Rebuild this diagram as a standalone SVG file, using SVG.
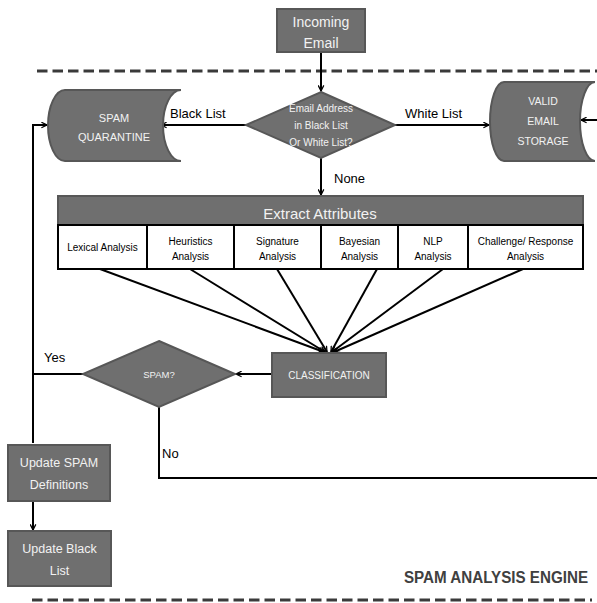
<svg xmlns="http://www.w3.org/2000/svg" width="597" height="603" viewBox="0 0 597 603">
<defs>
<marker id="ah" viewBox="0 0 10 10" refX="9" refY="5" markerWidth="7" markerHeight="7" markerUnits="userSpaceOnUse" orient="auto">
<path d="M1,1 L9,5 L1,9" fill="none" stroke="#000" stroke-width="1.8"/>
</marker>
<style>
.box{fill:#6f6f6f;stroke:#575757;stroke-width:2}
.t{font-family:"Liberation Sans",Arial,sans-serif;fill:#f2f2f2;text-anchor:middle}
.lbl{font-family:"Liberation Sans",Arial,sans-serif;fill:#000;font-size:13px}
.cell{fill:#fff;stroke:#000;stroke-width:2}
.ct{font-family:"Liberation Sans",Arial,sans-serif;fill:#000;font-size:10px;text-anchor:middle}
.c{fill:none;stroke:#000;stroke-width:2}
.ca{fill:none;stroke:#000;stroke-width:2;marker-end:url(#ah)}
.dash{fill:none;stroke:#3a3a3a;stroke-width:3;stroke-dasharray:10.5 5}
</style>
</defs>

<line class="dash" x1="37" y1="71" x2="597" y2="71"/>
<line class="dash" x1="32" y1="600" x2="592" y2="600"/>

<g id="connectors">
<line class="ca" x1="321" y1="52" x2="321" y2="91"/>
<line class="ca" x1="246" y1="125" x2="161" y2="125"/>
<line class="ca" x1="395" y1="125" x2="489" y2="125"/>
<line class="ca" x1="597" y1="120" x2="581" y2="120"/>
<line class="ca" x1="321" y1="158" x2="321" y2="195"/>
<line class="ca" x1="100" y1="269" x2="324" y2="352"/>
<line class="ca" x1="190" y1="269" x2="325" y2="352"/>
<line class="ca" x1="277" y1="269" x2="327" y2="352"/>
<line class="ca" x1="377" y1="269" x2="331" y2="352"/>
<line class="ca" x1="443" y1="269" x2="332" y2="352"/>
<line class="ca" x1="523" y1="269" x2="334" y2="352"/>
<line class="ca" x1="272" y1="374" x2="236" y2="374"/>
<polyline class="c" points="83,374 33,374"/>
<polyline class="ca" points="33,443 33,125 47,125"/>
<polyline class="c" points="159,407 159,478 597,478"/>
<line class="ca" x1="33" y1="501" x2="33" y2="530"/>
<text class="lbl" x="170" y="118">Black List</text>
<text class="lbl" x="405" y="118">White List</text>
<text class="lbl" x="334" y="183">None</text>
<text class="lbl" x="44" y="362" font-size="12">Yes</text>
<text class="lbl" x="162" y="458" font-size="12">No</text>
</g>

<g id="incoming">
<rect class="box" x="277" y="9" width="88" height="43"/>
<text class="t" x="321" y="27" font-size="14">Incoming</text>
<text class="t" x="321" y="48" font-size="14">Email</text>
</g>

<g id="decision">
<polygon class="box" points="321,92 395,125 321,158 246,125"/>
<text class="t" x="321" y="112" font-size="10">Email Address</text>
<text class="t" x="321" y="129" font-size="10">in Black List</text>
<text class="t" x="321" y="146" font-size="10">Or White List?</text>
</g>

<g id="quarantine">
<path class="box" d="M65,90 L181,90 A18,35.5 0 0 0 181,161 L65,161 A17,35.5 0 0 1 65,90 Z"/>
<text class="t" x="114" y="122" font-size="11">SPAM</text>
<text class="t" x="114" y="141" font-size="11">QUARANTINE</text>
</g>

<g id="valid">
<path class="box" d="M504,82 L595,82 A15,39.5 0 0 0 595,161 L504,161 A14,39.5 0 0 1 504,82 Z"/>
<text class="t" x="543" y="105" font-size="10.5">VALID</text>
<text class="t" x="543" y="125" font-size="10.5">EMAIL</text>
<text class="t" x="543" y="145" font-size="10.5">STORAGE</text>
</g>

<g id="extract">
<rect class="box" x="58" y="196" width="525" height="29"/>
<text class="t" x="320" y="219" font-size="15">Extract Attributes</text>
</g>

<g id="lexical">
<rect class="cell" x="58" y="225" width="89" height="44"/>
<text class="ct" x="102.5" y="251">Lexical Analysis</text>
</g>
<g id="heuristics">
<rect class="cell" x="147" y="225" width="87" height="44"/>
<text class="ct" x="190.5" y="245">Heuristics</text>
<text class="ct" x="190.5" y="260">Analysis</text>
</g>
<g id="signature">
<rect class="cell" x="234" y="225" width="87" height="44"/>
<text class="ct" x="277.5" y="245">Signature</text>
<text class="ct" x="277.5" y="260">Analysis</text>
</g>
<g id="bayesian">
<rect class="cell" x="321" y="225" width="77" height="44"/>
<text class="ct" x="359.5" y="245">Bayesian</text>
<text class="ct" x="359.5" y="260">Analysis</text>
</g>
<g id="nlp">
<rect class="cell" x="398" y="225" width="70" height="44"/>
<text class="ct" x="433" y="245">NLP</text>
<text class="ct" x="433" y="260">Analysis</text>
</g>
<g id="challenge">
<rect class="cell" x="468" y="225" width="115" height="44"/>
<text class="ct" x="525.5" y="245">Challenge/ Response</text>
<text class="ct" x="525.5" y="260">Analysis</text>
</g>

<g id="classification">
<rect class="box" x="272" y="353" width="114" height="44"/>
<text class="t" x="329" y="379" font-size="10">CLASSIFICATION</text>
</g>

<g id="spam">
<polygon class="box" points="159,341 235,374 159,407 83,374"/>
<text class="t" x="159" y="378" font-size="9.5">SPAM?</text>
</g>

<g id="update-defs">
<rect class="box" x="8" y="445" width="102" height="56"/>
<text class="t" x="59" y="467" font-size="12.5">Update SPAM</text>
<text class="t" x="59" y="489" font-size="12.5">Definitions</text>
</g>

<g id="update-black">
<rect class="box" x="8" y="531" width="103" height="55"/>
<text class="t" x="59.5" y="553" font-size="12.5">Update Black</text>
<text class="t" x="59.5" y="575" font-size="12.5">List</text>
</g>

<text x="496" y="583" font-family="'Liberation Sans',Arial,sans-serif" font-weight="bold" font-size="16" fill="#404040" text-anchor="middle" textLength="184" lengthAdjust="spacingAndGlyphs">SPAM ANALYSIS ENGINE</text>
</svg>
